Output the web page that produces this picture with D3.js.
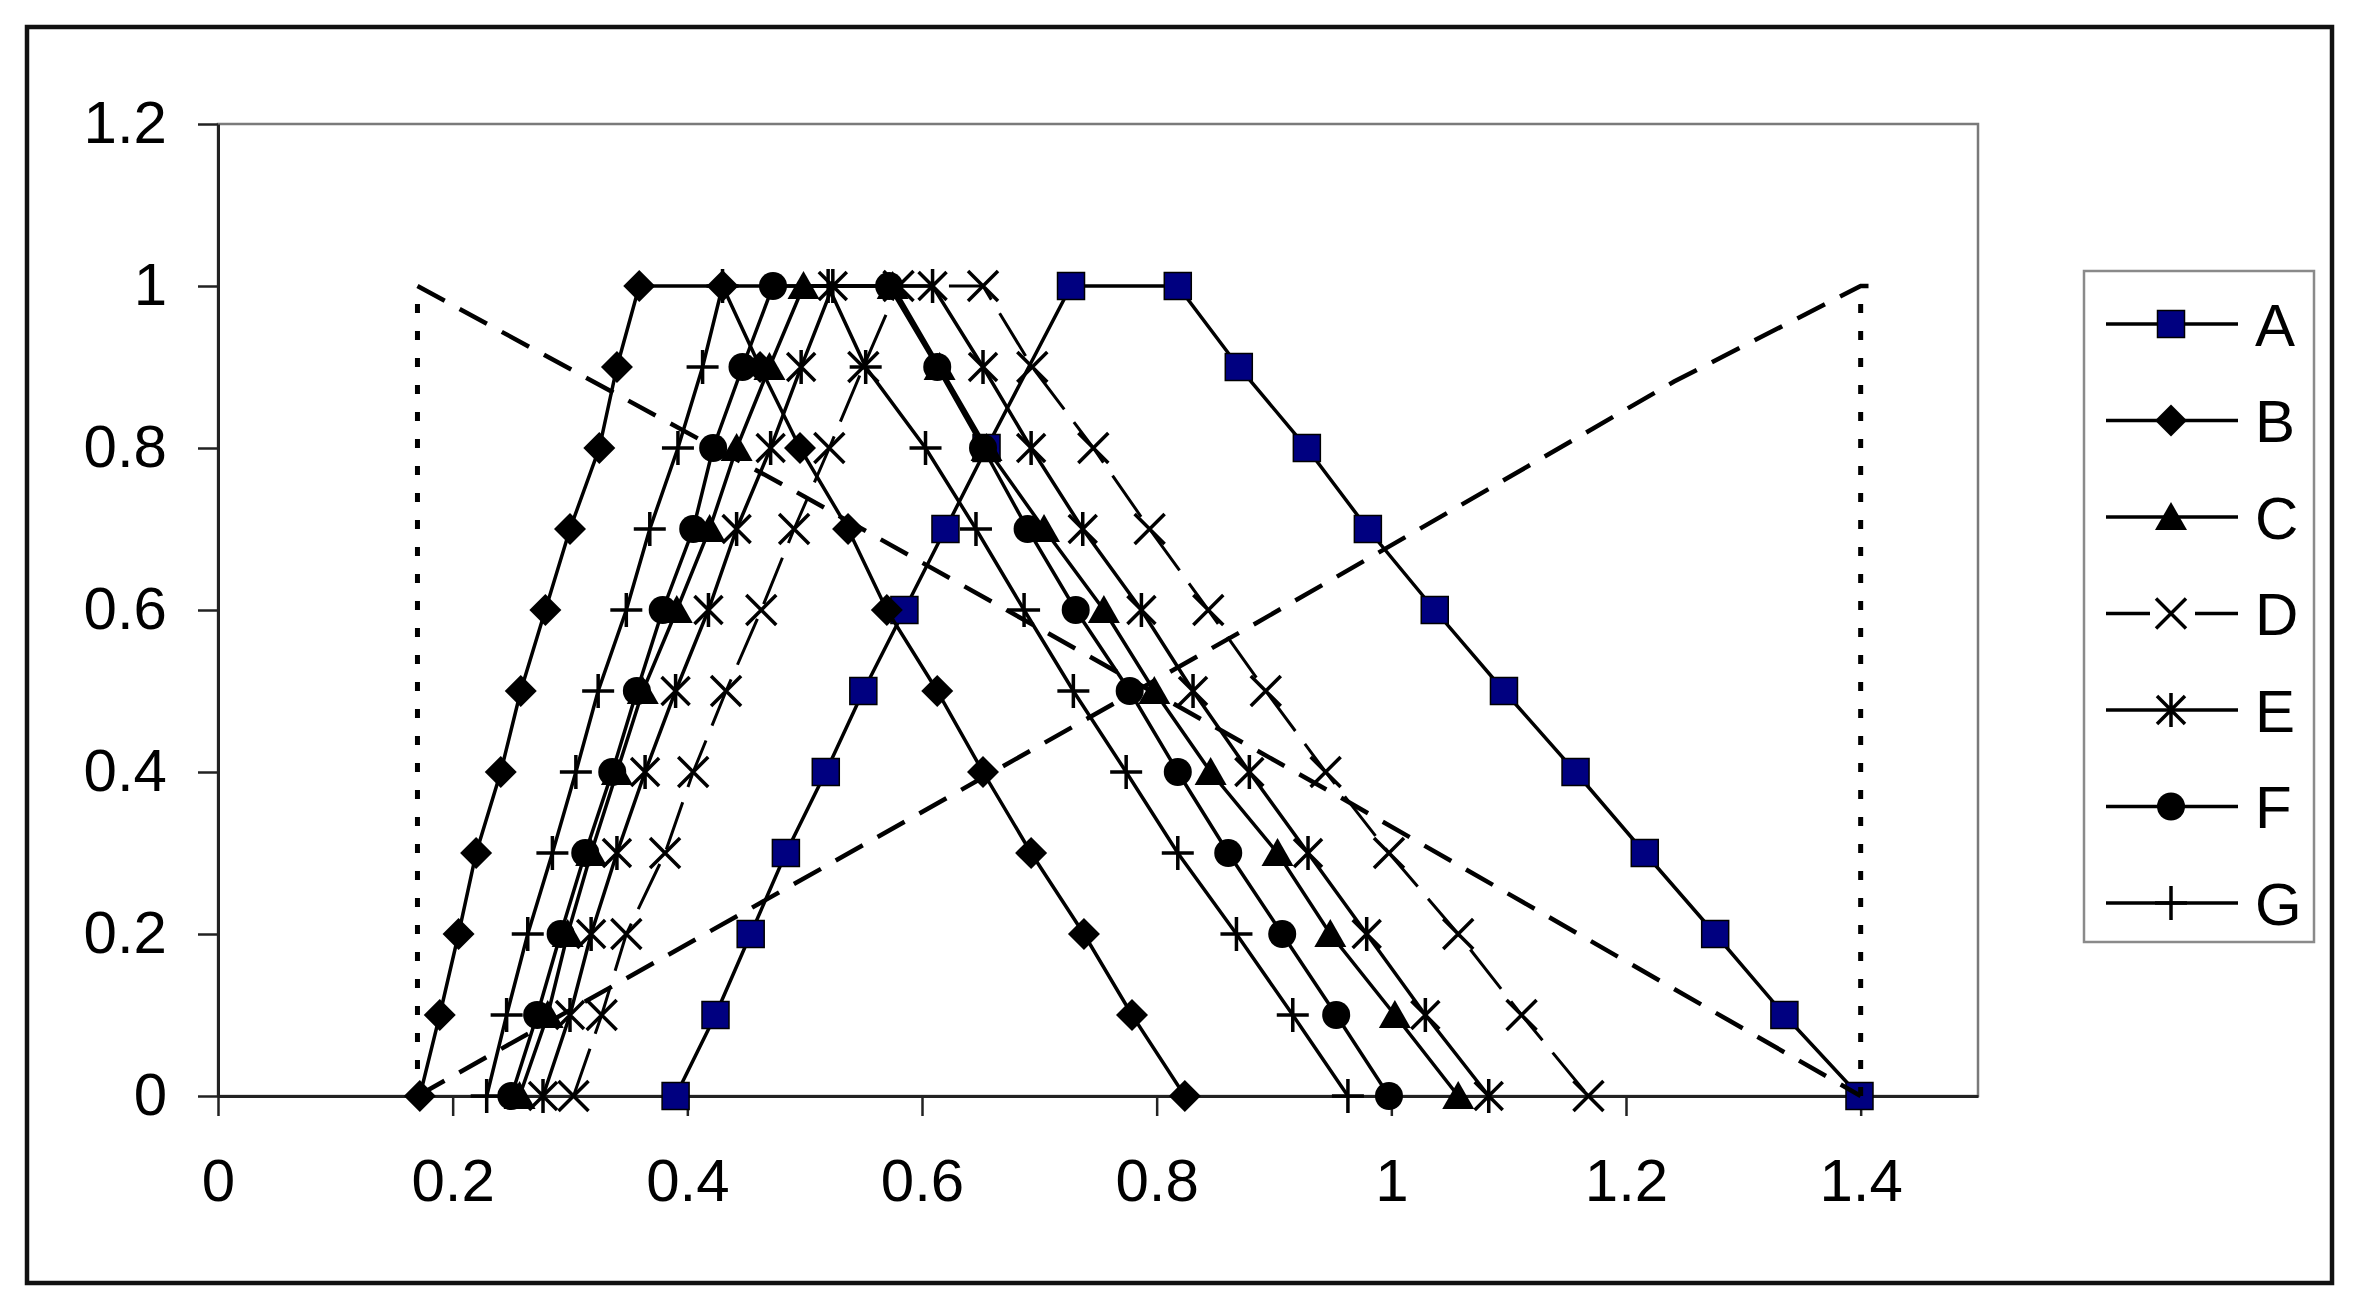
<!DOCTYPE html>
<html>
<head>
<meta charset="utf-8">
<script src="https://cdn.jsdelivr.net/npm/d3@7"></script>
<style>
  html, body { margin: 0; padding: 0; background: #ffffff; }
  svg { display: block; }
  text { font-family: "Liberation Sans", Arial, sans-serif; fill: #000; }
</style>
</head>
<body>
<svg id="chart" width="2360" height="1314"></svg>
<script>
// ---------------- data ----------------
const seriesNames = ["A", "B", "C", "D", "E", "F", "G"];

// membership levels for the 22-point trapezoids (rise 0..1, fall 1..0)
const levelsY = [0, 0.1, 0.2, 0.3, 0.4, 0.5, 0.6, 0.7, 0.8, 0.9, 1, 1, 0.9, 0.8, 0.7, 0.6, 0.5, 0.4, 0.3, 0.2, 0.1, 0];

const aX = [0.390, 0.424, 0.454, 0.484, 0.518, 0.550, 0.585, 0.620, 0.655, 0.727, 0.818, 0.870, 0.928, 0.980, 1.037, 1.096, 1.157, 1.216, 1.276, 1.335, 1.399];
const aY = [0, 0.1, 0.2, 0.3, 0.4, 0.5, 0.6, 0.7, 0.8, 1, 1, 0.9, 0.8, 0.7, 0.6, 0.5, 0.4, 0.3, 0.2, 0.1, 0];

const bX = [0.172, 0.189, 0.205, 0.220, 0.241, 0.258, 0.279, 0.300, 0.325, 0.340, 0.359, 0.430, 0.462, 0.496, 0.537, 0.570, 0.613, 0.652, 0.693, 0.738, 0.779, 0.824];
const cX = [0.257, 0.281, 0.298, 0.318, 0.340, 0.362, 0.391, 0.419, 0.442, 0.470, 0.499, 0.575, 0.615, 0.655, 0.704, 0.755, 0.798, 0.846, 0.903, 0.948, 1.003, 1.057];
const dX = [0.303, 0.327, 0.348, 0.381, 0.405, 0.433, 0.463, 0.491, 0.521, 0.550, 0.580, 0.652, 0.694, 0.746, 0.794, 0.844, 0.893, 0.944, 0.998, 1.057, 1.111, 1.168];
const eX = [0.277, 0.300, 0.318, 0.340, 0.364, 0.390, 0.418, 0.442, 0.471, 0.497, 0.524, 0.609, 0.652, 0.693, 0.737, 0.787, 0.831, 0.879, 0.929, 0.979, 1.029, 1.083];
const fX = [0.250, 0.272, 0.292, 0.313, 0.336, 0.357, 0.379, 0.405, 0.422, 0.447, 0.473, 0.572, 0.613, 0.652, 0.690, 0.731, 0.777, 0.818, 0.861, 0.907, 0.953, 0.998];
const gX = [0.229, 0.246, 0.264, 0.285, 0.305, 0.324, 0.348, 0.368, 0.392, 0.413, 0.430, 0.520, 0.552, 0.603, 0.646, 0.687, 0.729, 0.774, 0.818, 0.868, 0.916, 0.963];

// unlabelled reference lines
const fallX = [0.17, 0.49, 0.955, 1.40];
const fallY = [1.0, 0.748, 0.37, 0.0];
const riseX = [0.17, 0.62, 0.885, 1.024, 1.241, 1.40, 1.415];
const riseY = [0.0, 0.367, 0.584, 0.70, 0.882, 1.0, 1.0];
const boundX = [0.17, 1.40];
const boundY = [0, 1];

const xTicks = [0, 0.2, 0.4, 0.6, 0.8, 1, 1.2, 1.4];
const yTicks = [0, 0.2, 0.4, 0.6, 0.8, 1, 1.2];

// ---------------- layout ----------------
const svg = d3.select("#chart");
const plot = { left: 218, top: 124, right: 1978, bottom: 1096 };

const x = d3.scaleLinear().domain([0, 1.5]).range([plot.left, plot.right]);
const y = d3.scaleLinear().domain([0, 1.2]).range([plot.bottom, plot.top]);

svg.append("rect").attr("width", 2360).attr("height", 1314).attr("fill", "#fff");

// outer border
svg.append("rect")
  .attr("x", 27).attr("y", 27).attr("width", 2305).attr("height", 1256)
  .attr("fill", "none").attr("stroke", "#111").attr("stroke-width", 4.5);

// plot frame (top/right gray)
svg.append("rect")
  .attr("x", plot.left).attr("y", plot.top)
  .attr("width", plot.right - plot.left).attr("height", plot.bottom - plot.top)
  .attr("fill", "none").attr("stroke", "#7a7a7a").attr("stroke-width", 2.5);

// axes
const xAxis = d3.axisBottom(x).tickValues(xTicks).tickFormat(d3.format("")).tickSize(20).tickSizeOuter(0).tickPadding(42);
const yAxis = d3.axisLeft(y).tickValues(yTicks).tickFormat(d3.format("")).tickSize(20).tickSizeOuter(0).tickPadding(31);

const gx = svg.append("g").attr("transform", `translate(0,${plot.bottom})`).call(xAxis);
const gy = svg.append("g").attr("transform", `translate(${plot.left},0)`).call(yAxis);
[gx, gy].forEach(g => {
  g.select(".domain").attr("stroke", "#222").attr("stroke-width", 3);
  g.selectAll(".tick line").attr("stroke", "#222").attr("stroke-width", 2.5);
  g.selectAll(".tick text").attr("font-size", 60).attr("fill", "#000")
    .style("font-family", '"Liberation Sans", Arial, sans-serif');
});
gy.selectAll(".tick text").attr("dy", "0.30em");

// ---------------- markers ----------------
const markerPath = {
  square: "M-13.5,-13.5H13.5V13.5H-13.5Z",
  diamond: "M0,-16L16,0L0,16L-16,0Z",
  triangle: "M0,-15L16,13L-16,13Z",
  x: "M-15,-15L15,15M-15,15L15,-15",
  star: "M-14,-14L14,14M-14,14L14,-14M0,-17V17",
  plus: "M-16,0H16M0,-17V17"
};
function drawMarker(g, type, cx, cy) {
  if (type === "circle") {
    g.append("circle").attr("cx", cx).attr("cy", cy).attr("r", 14).attr("fill", "#000");
  } else if (type === "square") {
    g.append("path").attr("d", markerPath.square).attr("transform", `translate(${cx},${cy})`)
      .attr("fill", "#000080").attr("stroke", "#000").attr("stroke-width", 1.5);
  } else if (type === "diamond" || type === "triangle") {
    g.append("path").attr("d", markerPath[type]).attr("transform", `translate(${cx},${cy})`).attr("fill", "#000");
  } else {
    g.append("path").attr("d", markerPath[type]).attr("transform", `translate(${cx},${cy})`)
      .attr("fill", "none").attr("stroke", "#000").attr("stroke-width", 3.5);
  }
}

const series = [
  { name: "A", xs: aX, ys: aY, marker: "square", dash: null },
  { name: "B", xs: bX, ys: levelsY, marker: "diamond", dash: null },
  { name: "C", xs: cX, ys: levelsY, marker: "triangle", dash: null },
  { name: "D", xs: dX, ys: levelsY, marker: "x", dash: "50,16" },
  { name: "E", xs: eX, ys: levelsY, marker: "star", dash: null },
  { name: "F", xs: fX, ys: levelsY, marker: "circle", dash: null },
  { name: "G", xs: gX, ys: levelsY, marker: "plus", dash: null }
];

const line = d3.line().x(d => x(d[0])).y(d => y(d[1]));
const seriesLayer = svg.append("g");

series.forEach(s => {
  const pts = s.xs.map((v, i) => [v, s.ys[i]]);
  const g = seriesLayer.append("g");
  g.append("path").attr("d", line(pts)).attr("fill", "none")
    .attr("stroke", "#000").attr("stroke-width", s.dash ? 3 : 3.5)
    .attr("stroke-dasharray", s.dash);
  pts.forEach(p => drawMarker(g, s.marker, x(p[0]), y(p[1])));
});

// reference dashed / dotted lines
const refLayer = svg.append("g");
refLayer.append("path").attr("d", line(fallX.map((v, i) => [v, fallY[i]])))
  .attr("fill", "none").attr("stroke", "#000").attr("stroke-width", 4.5).attr("stroke-dasharray", "31,17");
refLayer.append("path").attr("d", line(riseX.map((v, i) => [v, riseY[i]])))
  .attr("fill", "none").attr("stroke", "#000").attr("stroke-width", 4.5).attr("stroke-dasharray", "31,17");
boundX.forEach(bx => {
  refLayer.append("path").attr("d", line(boundY.map(by => [bx, by])))
    .attr("fill", "none").attr("stroke", "#000").attr("stroke-width", 5).attr("stroke-dasharray", "9,18");
});

// ---------------- legend ----------------
const legend = svg.append("g");
legend.append("rect").attr("x", 2084).attr("y", 271).attr("width", 230).attr("height", 671)
  .attr("fill", "#fff").attr("stroke", "#8a8a8a").attr("stroke-width", 2.5);
const legY = d3.scalePoint().domain(seriesNames).range([324, 903]);
series.forEach(s => {
  const ly = legY(s.name);
  const g = legend.append("g");
  if (s.dash) {
    g.append("line").attr("x1", 2106).attr("x2", 2150).attr("y1", ly).attr("y2", ly).attr("stroke", "#000").attr("stroke-width", 3.5);
    g.append("line").attr("x1", 2195).attr("x2", 2238).attr("y1", ly).attr("y2", ly).attr("stroke", "#000").attr("stroke-width", 3.5);
  } else {
    g.append("line").attr("x1", 2106).attr("x2", 2238).attr("y1", ly).attr("y2", ly).attr("stroke", "#000").attr("stroke-width", 3.5);
  }
  drawMarker(g, s.marker, 2171, ly);
  g.append("text").attr("x", 2255).attr("y", ly).attr("dy", "0.36em")
    .attr("font-size", 60).text(s.name);
});
</script>
</body>
</html>
